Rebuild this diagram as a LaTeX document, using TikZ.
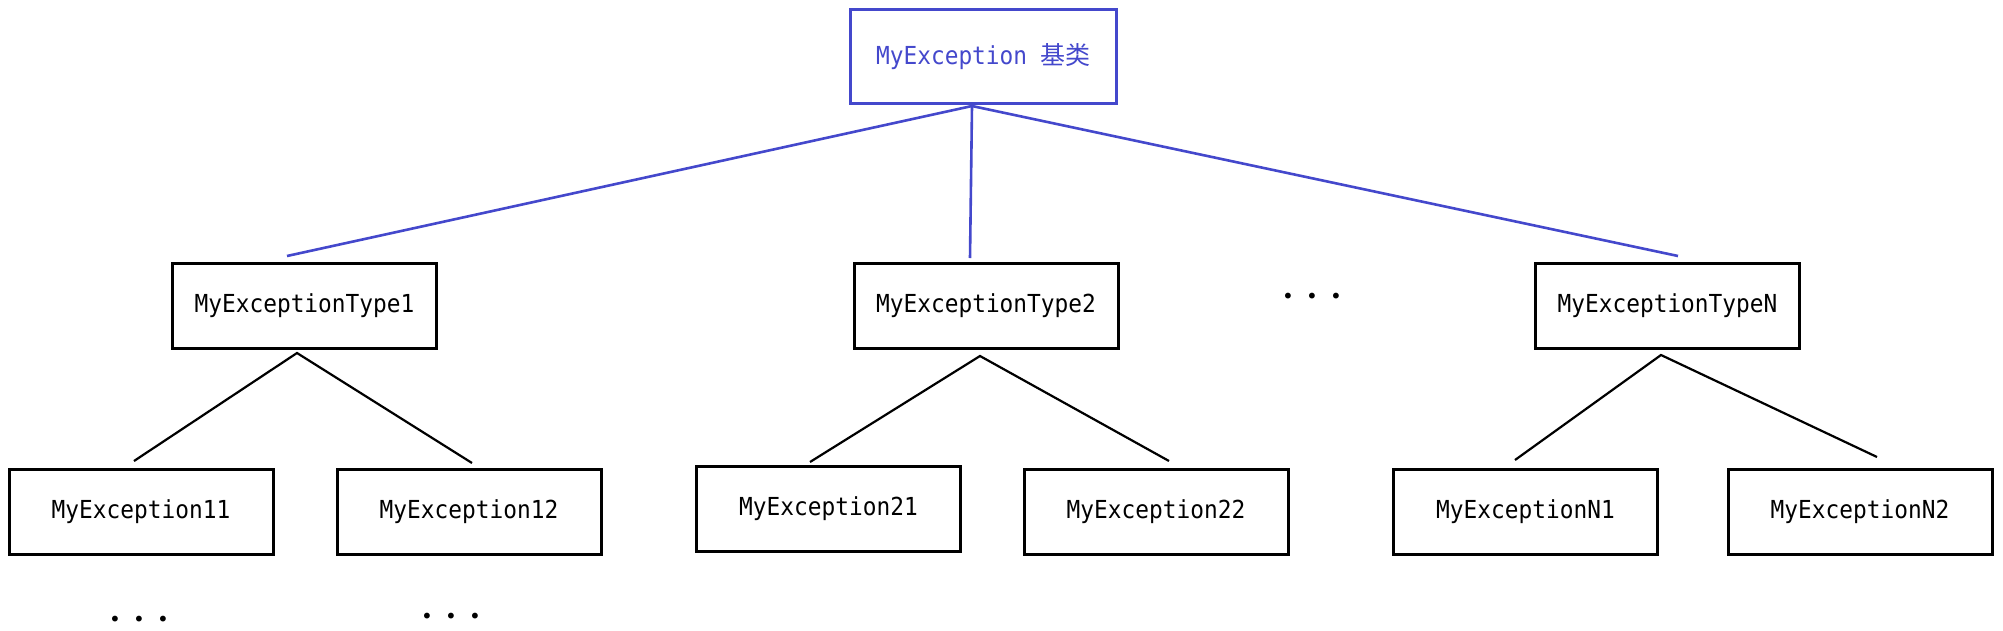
\documentclass[tikz,border=0pt]{standalone}
\usepackage{fontspec}
\newfontfamily\boxfont[FakeStretch=0.92]{DejaVu Sans Mono}
\newfontfamily\cjkfont{Noto Sans CJK SC}
\newfontfamily\dotfont{DejaVu Sans}
\definecolor{rootblue}{RGB}{68,72,204}
\newcommand\threedots{•\hspace{12.2pt}•\hspace{12.2pt}•}
\begin{document}
\begin{tikzpicture}[x=1pt,y=-1pt,
  box/.style={draw=black, line width=3pt, minimum width=264pt, minimum height=85pt,
    inner sep=0pt, font=\boxfont\fontsize{24.8}{30}\selectfont},
  rootbox/.style={box, draw=rootblue, text=rootblue, minimum width=266pt, minimum height=94pt},
  link/.style={line width=2.6pt, draw=rootblue},
  sublink/.style={line width=2.2pt, draw=black},
  dotsnode/.style={inner sep=0pt, font=\dotfont\fontsize{20}{20}\selectfont, anchor=base}]
\useasboundingbox[fill=white] (0,0) rectangle (2003,630);

% nodes
\node[rootbox] (root) at (983.5,56.5) {MyException {\cjkfont\fontsize{25}{30}\selectfont 基类}};
\node[box] (t1) at (304.5,306) {MyExceptionType1};
\node[box] (t2) at (986,306) {MyExceptionType2};
\node[box] (tN) at (1667.5,306) {MyExceptionTypeN};
\node[box] (e11) at (141,511.5) {MyException11};
\node[box] (e12) at (469,511.5) {MyException12};
\node[box] (e21) at (828.5,509) {MyException21};
\node[box] (e22) at (1156,511.5) {MyException22};
\node[box] (eN1) at (1525.5,511.5) {MyExceptionN1};
\node[box] (eN2) at (1860,511.5) {MyExceptionN2};

\node[dotsnode] (dotsT) at (1312,303.5) {\threedots};
\node[dotsnode] (dots11) at (139,626.5) {\threedots};
\node[dotsnode] (dots12) at (451,623.5) {\threedots};

% connector end points
\coordinate (rootfoot) at (972,106);
\coordinate (t1top) at (287,256);
\coordinate (t2top) at (970,258);
\coordinate (tNtop) at (1678,256);
\coordinate (t1foot) at (297,353);
\coordinate (t2foot) at (980,356);
\coordinate (tNfoot) at (1661,355);
\coordinate (e11top) at (134,461);
\coordinate (e12top) at (472,463);
\coordinate (e21top) at (810,462);
\coordinate (e22top) at (1169,461);
\coordinate (eN1top) at (1515,460);
\coordinate (eN2top) at (1877,457);

% blue connectors
\draw[link] (rootfoot) -- (t1top);
\draw[link] (rootfoot) -- (t2top);
\draw[link] (rootfoot) -- (tNtop);

% black connectors
\draw[sublink] (e11top) -- (t1foot) -- (e12top);
\draw[sublink] (e21top) -- (t2foot) -- (e22top);
\draw[sublink] (eN1top) -- (tNfoot) -- (eN2top);
\end{tikzpicture}
\end{document}
